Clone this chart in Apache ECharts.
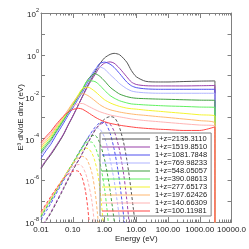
<!DOCTYPE html>
<html><head><meta charset="utf-8">
<script src="https://cdn.jsdelivr.net/npm/echarts@6/dist/echarts.min.js"></script>
<style>html,body{margin:0;padding:0;background:#fff}#c{width:249px;height:249px}</style>
</head><body><div id="c"></div>
<script>
// Legend labels (1+z)
const redshiftLabels = ['1+z=2135.3110','1+z=1519.8510','1+z=1081.7848','1+z=769.98233','1+z=548.05057','1+z=390.08613','1+z=277.65173','1+z=197.62426','1+z=140.66309','1+z=100.11981'];
const lineColors = ['#555555','#9a40aa','#5050f0','#b0b4ff','#40a040','#60f060','#f4f430','#ffb870','#ffb4b4','#ff4848'];

// Tick labels
const xTickLabels = ['0.01','0.10','1.00','10.00','100.00','1000.00','10000.0'];
const yTickExponents = ['2','0','-2','-4','-6','-8'];

// Energies (eV) for the solid curves
const energySolid = [0.01,0.015,0.02,0.03,0.05,0.07,0.1,0.15,0.2,0.3,0.5,0.7,1,1.5,2,3,5,7,10,20,50,100,300,1000,3000];
// log10 of E^3 dN/dE dlnz (eV), solid curves
const solid2135 = [-5.45,-5.05,-4.8,-4.4,-3.85,-3.4,-2.95,-2.4,-2.0,-1.45,-0.85,-0.45,-0.15,0.02,0.07,0.0,-0.35,-0.75,-1.05,-1.27,-1.3,-1.3,-1.28,-1.26,-1.25];
const solid1519 = [-5.4,-5.0,-4.75,-4.35,-3.82,-3.38,-2.93,-2.4,-2.02,-1.5,-0.95,-0.6,-0.4,-0.34,-0.4,-0.65,-1.05,-1.3,-1.42,-1.48,-1.49,-1.49,-1.49,-1.48,-1.47];
const solid1081 = [-4.95,-4.55,-4.3,-3.85,-3.3,-2.92,-2.55,-2.1,-1.8,-1.3,-0.75,-0.42,-0.35,-0.45,-0.6,-0.9,-1.3,-1.48,-1.57,-1.63,-1.65,-1.65,-1.65,-1.65,-1.65];
const solid769 = [-4.8,-4.42,-4.18,-3.75,-3.22,-2.85,-2.48,-2.03,-1.72,-1.25,-0.68,-0.58,-0.68,-0.95,-1.12,-1.38,-1.62,-1.73,-1.78,-1.82,-1.84,-1.84,-1.84,-1.84,-1.84];
const solid548 = [-4.7,-4.33,-4.1,-3.68,-3.16,-2.8,-2.43,-1.98,-1.68,-1.18,-0.9,-1.02,-1.25,-1.55,-1.7,-1.88,-2.0,-2.05,-2.08,-2.1,-2.12,-2.13,-2.15,-2.17,-2.18];
const solid390 = [-4.6,-4.24,-4.02,-3.6,-3.1,-2.75,-2.38,-1.95,-1.65,-1.24,-1.28,-1.45,-1.7,-1.95,-2.07,-2.2,-2.3,-2.35,-2.37,-2.4,-2.43,-2.45,-2.47,-2.5,-2.52];
const solid277 = [-4.5,-4.15,-3.93,-3.53,-3.04,-2.7,-2.33,-1.9,-1.62,-1.55,-1.75,-1.95,-2.15,-2.3,-2.38,-2.47,-2.55,-2.58,-2.6,-2.65,-2.7,-2.74,-2.8,-2.87,-2.93];
const solid197 = [-4.4,-4.06,-3.85,-3.46,-2.98,-2.65,-2.3,-1.98,-1.85,-1.95,-2.2,-2.38,-2.52,-2.63,-2.68,-2.74,-2.8,-2.83,-2.86,-2.9,-2.96,-3.0,-3.07,-3.15,-3.28];
const solid140 = [-4.3,-3.97,-3.77,-3.4,-2.97,-2.68,-2.45,-2.34,-2.33,-2.45,-2.62,-2.72,-2.8,-2.88,-2.92,-2.97,-3.03,-3.07,-3.1,-3.15,-3.2,-3.24,-3.3,-3.36,-3.4];
const solid100 = [-4.2,-3.88,-3.68,-3.33,-2.95,-2.75,-2.62,-2.56,-2.6,-2.76,-2.98,-3.1,-3.2,-3.28,-3.32,-3.37,-3.42,-3.45,-3.48,-3.52,-3.56,-3.58,-3.62,-3.62,-3.45];
const solidCutoffValue = 1e-12; // spectrum drops to ~0 at the last energy

// Energies (eV) for the dashed curves
const energyDashed = [0.01,0.015,0.02,0.03,0.05,0.07,0.1,0.13,0.16,0.2,0.25,0.3,0.4,0.5,0.6,0.7,0.8,1,1.2,1.5,2,2.5,3,4,5,6,8,10,12];
const dashed2135 = [-8.35,-7.9,-7.6,-7.1,-6.45,-6.0,-5.55,-5.22,-4.98,-4.72,-4.45,-4.22,-3.88,-3.62,-3.45,-3.32,-3.22,-3.08,-3.0,-2.96,-3.0,-3.2,-3.5,-4.2,-5.0,-5.8,-7.3,-8.6,-10];
const dashed1519 = [-8.3,-7.85,-7.55,-7.05,-6.4,-5.95,-5.5,-5.2,-5.0,-4.7,-4.42,-4.2,-3.85,-3.6,-3.45,-3.35,-3.3,-3.25,-3.25,-3.32,-3.65,-4.1,-4.6,-5.7,-6.9,-8.1,-10];
const dashed1081 = [-7.9,-7.45,-7.14,-6.65,-6.05,-5.65,-5.25,-4.95,-4.7,-4.44,-4.17,-3.97,-3.68,-3.47,-3.34,-3.26,-3.23,-3.25,-3.4,-3.75,-4.5,-5.3,-6.1,-7.7,-9.0];
const dashed769 = [-7.8,-7.35,-7.05,-6.57,-5.99,-5.6,-5.2,-4.9,-4.65,-4.4,-4.14,-3.95,-3.7,-3.55,-3.5,-3.55,-3.65,-3.95,-4.35,-5.0,-6.0,-7.0,-7.9,-9.6];
const dashed548 = [-7.75,-7.3,-7.0,-6.53,-5.96,-5.57,-5.18,-4.88,-4.64,-4.4,-4.17,-4.0,-3.87,-3.86,-3.98,-4.2,-4.45,-5.0,-5.6,-6.5,-7.9,-9.3];
const dashed390 = [-7.7,-7.26,-6.96,-6.5,-5.94,-5.56,-5.18,-4.9,-4.68,-4.45,-4.25,-4.17,-4.18,-4.4,-4.7,-5.1,-5.5,-6.4,-7.4,-9.0,-11];
const dashed277 = [-7.65,-7.22,-6.92,-6.48,-5.92,-5.55,-5.2,-4.95,-4.75,-4.57,-4.47,-4.48,-4.7,-5.1,-5.6,-6.3,-7.1,-8.9,-10.5];
const dashed197 = [-7.6,-7.18,-6.88,-6.45,-5.9,-5.55,-5.25,-5.03,-4.92,-4.86,-4.92,-5.1,-5.65,-6.5,-7.6,-8.8,-10];
const dashed140 = [-7.55,-7.15,-6.85,-6.42,-5.92,-5.6,-5.38,-5.27,-5.25,-5.35,-5.65,-6.05,-7.0,-8.4,-10];
const dashed100 = [-7.5,-7.1,-6.8,-6.4,-5.95,-5.72,-5.58,-5.55,-5.6,-5.9,-6.5,-7.4,-9.5];

const solidSets = [solid2135,solid1519,solid1081,solid769,solid548,solid390,solid277,solid197,solid140,solid100];
const dashedSets = [dashed2135,dashed1519,dashed1081,dashed769,dashed548,dashed390,dashed277,dashed197,dashed140,dashed100];

function toPairs(energies, logs){
  const out = [];
  for (let i = 0; i < logs.length; i++) out.push([energies[i], Math.pow(10, logs[i])]);
  return out;
}

const FONT = 'Liberation Sans';
const AX = '#808080';
const series = [];
dashedSets.forEach((d, i) => {
  series.push({
    type:'line', name:'d'+i, data: toPairs(energyDashed, d), showSymbol:false, symbol:'none',
    smooth:0.3, color: lineColors[i], lineStyle:{width:1, type:[3,2], color: lineColors[i]}, silent:true, animation:false
  });
});
solidSets.forEach((d, i) => {
  const pts = toPairs(energySolid, d);
  pts.push([energySolid[energySolid.length-1], solidCutoffValue]);
  series.push({
    type:'line', name: redshiftLabels[i], data: pts, showSymbol:false, symbol:'none',
    smooth:0.25, color: lineColors[i], lineStyle:{width:1, color: lineColors[i]}, silent:true, animation:false
  });
});

const xBase = {
  type:'log', logBase:10, min:0.01, max:10000, interval:1,
  axisLine:{show:true, lineStyle:{color:AX, width:1}},
  axisTick:{show:true, inside:true, length:5, lineStyle:{color:AX}},
  minorTick:{show:true, splitNumber:9, length:2.5, lineStyle:{color:AX}},
  splitLine:{show:false}, minorSplitLine:{show:false}
};
const yBase = {
  type:'log', logBase:10, min:1e-8, max:100, interval:1,
  axisLine:{show:true, lineStyle:{color:AX, width:1}},
  axisTick:{show:true, inside:true, length:4, lineStyle:{color:AX}},
  splitLine:{show:false}
};

const chart = echarts.init(document.getElementById('c'), null, {renderer:'canvas'});
chart.setOption({
  animation:false,
  backgroundColor:'#fff',
  textStyle:{fontFamily:FONT},
  grid:{left:41, top:13, width:196, height:209, containLabel:false},
  legend:{
    data: redshiftLabels, orient:'vertical', left:100, top:133,
    icon:'rect', itemWidth:48, itemHeight:1, itemGap:0,
    padding:[2,4,1,2], borderColor:'#808080', borderWidth:1,
    textStyle:{fontSize:7.5, lineHeight:7.9, color:'#222', fontFamily:FONT},
    selectedMode:false
  },
  xAxis:[
    Object.assign({}, xBase, {position:'bottom',
      axisLabel:{show:true, fontSize:8, margin:4, color:'#222', fontFamily:FONT, showMinLabel:true, showMaxLabel:true, hideOverlap:false,
        formatter:(v)=>{ const k = Math.round(Math.log10(v)); return xTickLabels[k+2] || ''; }},
      name:'Energy (eV)', nameLocation:'middle', nameGap:13, nameMoveOverlap:false, nameTextStyle:{fontSize:8, color:'#222', fontFamily:FONT}}),
    Object.assign({}, xBase, {position:'top', axisLabel:{show:false}})
  ],
  yAxis:[
    Object.assign({}, yBase, {position:'left',
      axisLabel:{show:true, margin:2, color:'#222', fontFamily:FONT, showMinLabel:true, showMaxLabel:true, hideOverlap:false,
        formatter:(v)=>{ const k = Math.round(Math.log10(v)); const idx = yTickExponents.indexOf(String(k)); return idx<0 ? '' : '{b|10}{e|'+yTickExponents[idx]+'}'; },
        rich:{b:{fontSize:8, fontFamily:FONT, color:'#222', lineHeight:12, verticalAlign:'bottom'}, e:{fontSize:5.5, fontFamily:FONT, color:'#222', lineHeight:12, verticalAlign:'top'}}},
      name:'E³ dN/dE dlnz (eV)', nameLocation:'middle', nameGap:16, nameMoveOverlap:false, nameTextStyle:{fontSize:8, color:'#222', fontFamily:FONT}}),
    Object.assign({}, yBase, {position:'right', axisLabel:{show:false}})
  ],
  series: series
});
</script></body></html>
